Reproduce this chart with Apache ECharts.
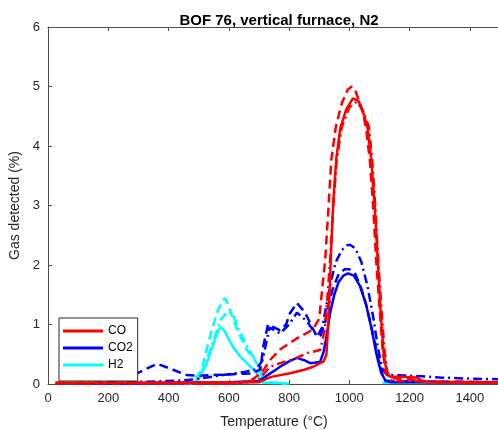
<!DOCTYPE html>
<html>
<head>
<meta charset="utf-8">
<script src="https://cdn.jsdelivr.net/npm/echarts@6/dist/echarts.min.js"></script>
<style>html,body{margin:0;padding:0;background:#fff;}#c{width:498px;height:430px;}</style>
</head>
<body>
<div id="c"></div>
<script>
// Temperature (°C), gas detected (%)
const coSolid = [[25,0.02],[300,0.02],[500,0.02],[700,0.03],[740,0.12],[803,0.18],[850,0.24],[880,0.29],[915,0.38],[924,0.5],[930,1.0],[935,1.6],[940,2.3],[947,3.1],[957,3.8],[970,4.3],[990,4.62],[1012,4.8],[1030,4.76],[1045,4.58],[1060,4.32],[1073,3.76],[1084,3.0],[1094,2.1],[1104,1.2],[1114,0.5],[1124,0.2],[1135,0.12],[1180,0.12],[1220,0.11],[1240,0.06],[1265,0.03],[1500,0.02]];
const coDashed = [[25,0.01],[400,0.01],[620,0.01],[640,0.02],[680,0.08],[710,0.2],[740,0.42],[770,0.58],[800,0.68],[830,0.78],[860,0.86],[880,0.92],[900,1.1],[910,1.6],[920,2.1],[930,2.9],[940,3.76],[955,4.32],[975,4.72],[995,4.95],[1008,5.0],[1020,4.93],[1040,4.65],[1055,4.32],[1068,3.76],[1079,3.0],[1089,2.08],[1100,1.3],[1110,0.6],[1120,0.2],[1135,0.1],[1200,0.08],[1260,0.03],[1500,0.02]];
const coDashDot = [[25,0.02],[400,0.02],[650,0.02],[700,0.08],[737,0.29],[770,0.35],[803,0.4],[830,0.45],[860,0.52],[903,0.57],[918,0.9],[928,1.5],[936,2.08],[947,3.0],[958,3.76],[975,4.32],[1000,4.65],[1025,4.75],[1045,4.6],[1065,4.32],[1076,3.76],[1086,3.0],[1096,2.08],[1106,1.3],[1116,0.6],[1126,0.2],[1140,0.05],[1500,0.03]];

const co2Solid = [[170,0.01],[400,0.02],[600,0.03],[700,0.05],[720,0.12],[750,0.22],[770,0.29],[800,0.38],[826,0.44],[850,0.4],[870,0.35],[903,0.37],[915,0.55],[926,0.85],[936,1.19],[950,1.5],[965,1.72],[980,1.82],[996,1.86],[1015,1.82],[1035,1.65],[1055,1.35],[1075,0.9],[1090,0.5],[1105,0.2],[1120,0.05],[1140,0.03],[1500,0.03]];
const co2Dashed = [[150,0.01],[240,0.07],[295,0.18],[362,0.34],[415,0.24],[460,0.15],[500,0.14],[600,0.16],[680,0.18],[705,0.25],[714,0.62],[730,1.0],[750,0.95],[770,0.9],[790,1.0],[803,1.19],[826,1.36],[845,1.25],[860,1.13],[880,0.92],[893,0.79],[905,0.82],[918,1.0],[930,1.3],[945,1.6],[965,1.85],[985,1.93],[1000,1.93],[1020,1.85],[1040,1.6],[1060,1.25],[1080,0.8],[1095,0.45],[1110,0.15],[1125,0.05],[1500,0.03]];
const co2DashDot = [[200,0.02],[400,0.05],[471,0.07],[580,0.15],[650,0.2],[693,0.25],[712,0.4],[735,0.95],[770,0.85],[800,1.0],[826,1.2],[860,1.05],[893,0.8],[910,0.95],[925,1.35],[940,1.75],[955,2.05],[975,2.25],[992,2.33],[1002,2.34],[1020,2.28],[1040,2.05],[1060,1.65],[1080,1.1],[1095,0.6],[1110,0.25],[1125,0.15],[1150,0.15],[1200,0.14],[1300,0.11],[1400,0.09],[1500,0.08]];

const h2Solid = [[450,0],[480,0.02],[500,0.08],[527,0.35],[553,0.74],[571,0.96],[585,0.9],[600,0.75],[614,0.62],[640,0.45],[660,0.35],[693,0.18],[713,0.02],[760,0.02],[800,0.01],[950,null],[1110,0.02],[1500,0.02]];
const h2Dashed = [[450,0],[480,0.02],[510,0.25],[537,0.79],[560,1.19],[578,1.4],[588,1.44],[600,1.3],[627,0.91],[660,0.57],[693,0.35],[710,0.12],[725,0.02],[790,0.01]];
const h2DashDot = [[460,0],[490,0.03],[520,0.3],[550,0.75],[575,1.1],[598,1.22],[615,1.15],[640,0.85],[670,0.55],[700,0.3],[720,0.1],[740,0.02],[800,0.01],[950,null],[1120,0.03],[1500,0.03]];

const legendNames = ['CO','CO2','H2'];
const xTicks = [0,200,400,600,800,1000,1200,1400];

const RED='#ff0000', BLUE='#0000ff', CYAN='#00ffff';
const DASH=[9,5], DASHDOT=[9,4,2,4];
function s(name, data, color, type){
  return {name:name, type:'line', data:data, showSymbol:false, symbol:'none',
    lineStyle:{color:color, width:2.5, type:type}, itemStyle:{color:color},
    clip:true, animation:false, connectNulls:false};
}
const axisColor='#4d4d4d';
const FONT='Liberation Sans, Arial, sans-serif';
const chart = echarts.init(document.getElementById('c'));
chart.setOption({
  backgroundColor:'#fff',
  animation:false,
  title:{text:'BOF 76, vertical furnace, N2', left:274, textAlign:'center', top:8,
    textStyle:{fontFamily:FONT, fontSize:15, fontWeight:'bold', color:'#000'}},
  grid:{left:48, top:27, width:452, bottom:46, containLabel:false, outerBoundsMode:'none'},
  legend:{data:legendNames, orient:'vertical', left:59, top:318, itemWidth:40, itemHeight:3, itemGap:5,
    icon:'rect', padding:[7,5,10,4], borderColor:'#262626', borderWidth:1, backgroundColor:'#fff',
    textStyle:{fontFamily:FONT, fontSize:12, color:'#000'}, selectedMode:false},
  xAxis:[{type:'value', min:0, max:1500, interval:200, position:'bottom',
    name:'Temperature (°C)', nameLocation:'middle', nameGap:31,
    nameTextStyle:{fontFamily:FONT, fontSize:14, color:'#262626'},
    axisLine:{show:true, onZero:false, lineStyle:{color:axisColor}},
    axisTick:{show:true, inside:true, length:4, lineStyle:{color:axisColor}},
    axisLabel:{showMaxLabel:false, fontFamily:FONT, fontSize:13, color:'#262626', margin:8,
      formatter:function(v){return xTicks.indexOf(v)>=0?String(v):'';}},
    splitLine:{show:false}},
   {type:'value', min:0, max:1500, interval:200, position:'top',
    axisLine:{show:true, onZero:false, lineStyle:{color:axisColor}},
    axisTick:{show:true, inside:true, length:4, lineStyle:{color:axisColor}},
    axisLabel:{show:false}, splitLine:{show:false}}],
  yAxis:[{type:'value', min:0, max:6, interval:1,
    name:'Gas detected (%)', nameLocation:'middle', nameGap:22,
    nameTextStyle:{fontFamily:FONT, fontSize:14, color:'#262626'},
    axisLine:{show:true, onZero:false, lineStyle:{color:axisColor}},
    axisTick:{show:true, inside:true, length:4, lineStyle:{color:axisColor}},
    axisLabel:{fontFamily:FONT, fontSize:13, color:'#262626', margin:8},
    splitLine:{show:false}}],
  series:[
    s('H2', h2Solid, CYAN, 'solid'),
    s('H2 b', h2Dashed, CYAN, DASH),
    s('H2 c', h2DashDot, CYAN, DASHDOT),
    s('CO2', co2Solid, BLUE, 'solid'),
    s('CO2 b', co2Dashed, BLUE, DASH),
    s('CO2 c', co2DashDot, BLUE, DASHDOT),
    s('CO', coSolid, RED, 'solid'),
    s('CO b', coDashed, RED, DASH),
    s('CO c', coDashDot, RED, DASHDOT)
  ]
});
</script>
</body>
</html>
